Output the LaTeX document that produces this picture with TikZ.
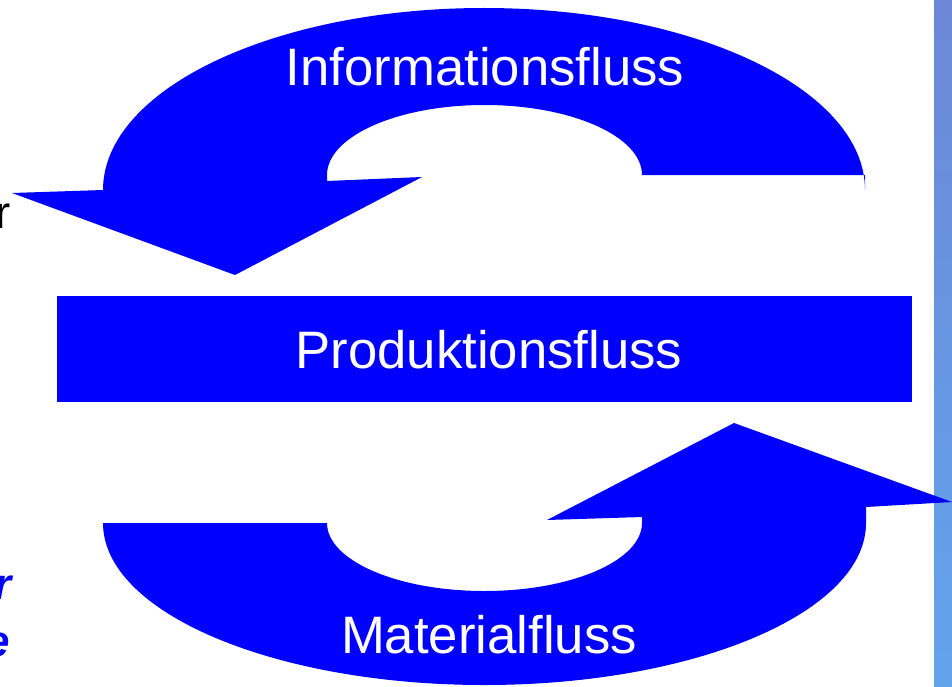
\documentclass[tikz,border=0pt]{standalone}
\usepackage{fontspec}
\setmainfont{Liberation Sans}
\definecolor{flowblue}{RGB}{0,0,255}
\definecolor{skytop}{RGB}{108,136,214}
\definecolor{skymid}{RGB}{120,176,242}
\definecolor{skybot}{RGB}{98,164,236}

\begin{document}
\begin{tikzpicture}[x=0.02cm, y=0.02cm,
  flowlabel/.style={text=white, font=\fontsize{30}{36}\selectfont},
  edgetext/.style={font=\fontsize{26}{31}\selectfont, anchor=base east, inner sep=0pt}]

\useasboundingbox (0,0) rectangle (952,-686);

% Sky strip on the right
\shade[top color=skytop, middle color=skymid, bottom color=skybot] (934,0) rectangle (952,-686);

% Cut-off text on the left edge
\node[edgetext] (cutr) at (11,-228) {r};
\node[edgetext, text=flowblue, font=\fontsize{25}{30}\selectfont\bfseries\itshape] (cutbluer) at (12,-599) {r};
\node[edgetext, text=flowblue, font=\fontsize{25}{30}\selectfont\bfseries\itshape] (cutbluee) at (10,-656) {e};

% Informationsfluss (top arrow)
\fill[flowblue] (12,-193) -- (103,-190)
  arc[start angle=180, end angle=0, x radius=381, y radius=182]
  -- (865,-175) -- (642,-175)
  arc[start angle=0, end angle=180, x radius=157.5, y radius=70]
  -- (327,-181) -- (422,-177) -- (235,-275) -- cycle;

% Materialfluss (bottom arrow)
\fill[flowblue] (734,-423) -- (952,-502) -- (866,-507) -- (866,-523)
  arc[start angle=0, end angle=-180, x radius=381.5, y radius=162]
  -- (327,-523)
  arc[start angle=180, end angle=360, x radius=157.5, y radius=68]
  -- (642,-517) -- (547,-520) -- cycle;

% Produktionsfluss
\node[fill=flowblue, minimum width=17.1cm, minimum height=2.12cm, inner sep=0pt] (prod) at (484.5,-349) {};
\node[flowlabel, anchor=base] (prodlabel) at (489,-368) {Produktionsfluss};

% Labels
\node[flowlabel, anchor=base] (info) at (485,-86) {Informationsfluss};
\node[flowlabel, anchor=base] (mat) at (489,-653) {Materialfluss};

\end{tikzpicture}
\end{document}
